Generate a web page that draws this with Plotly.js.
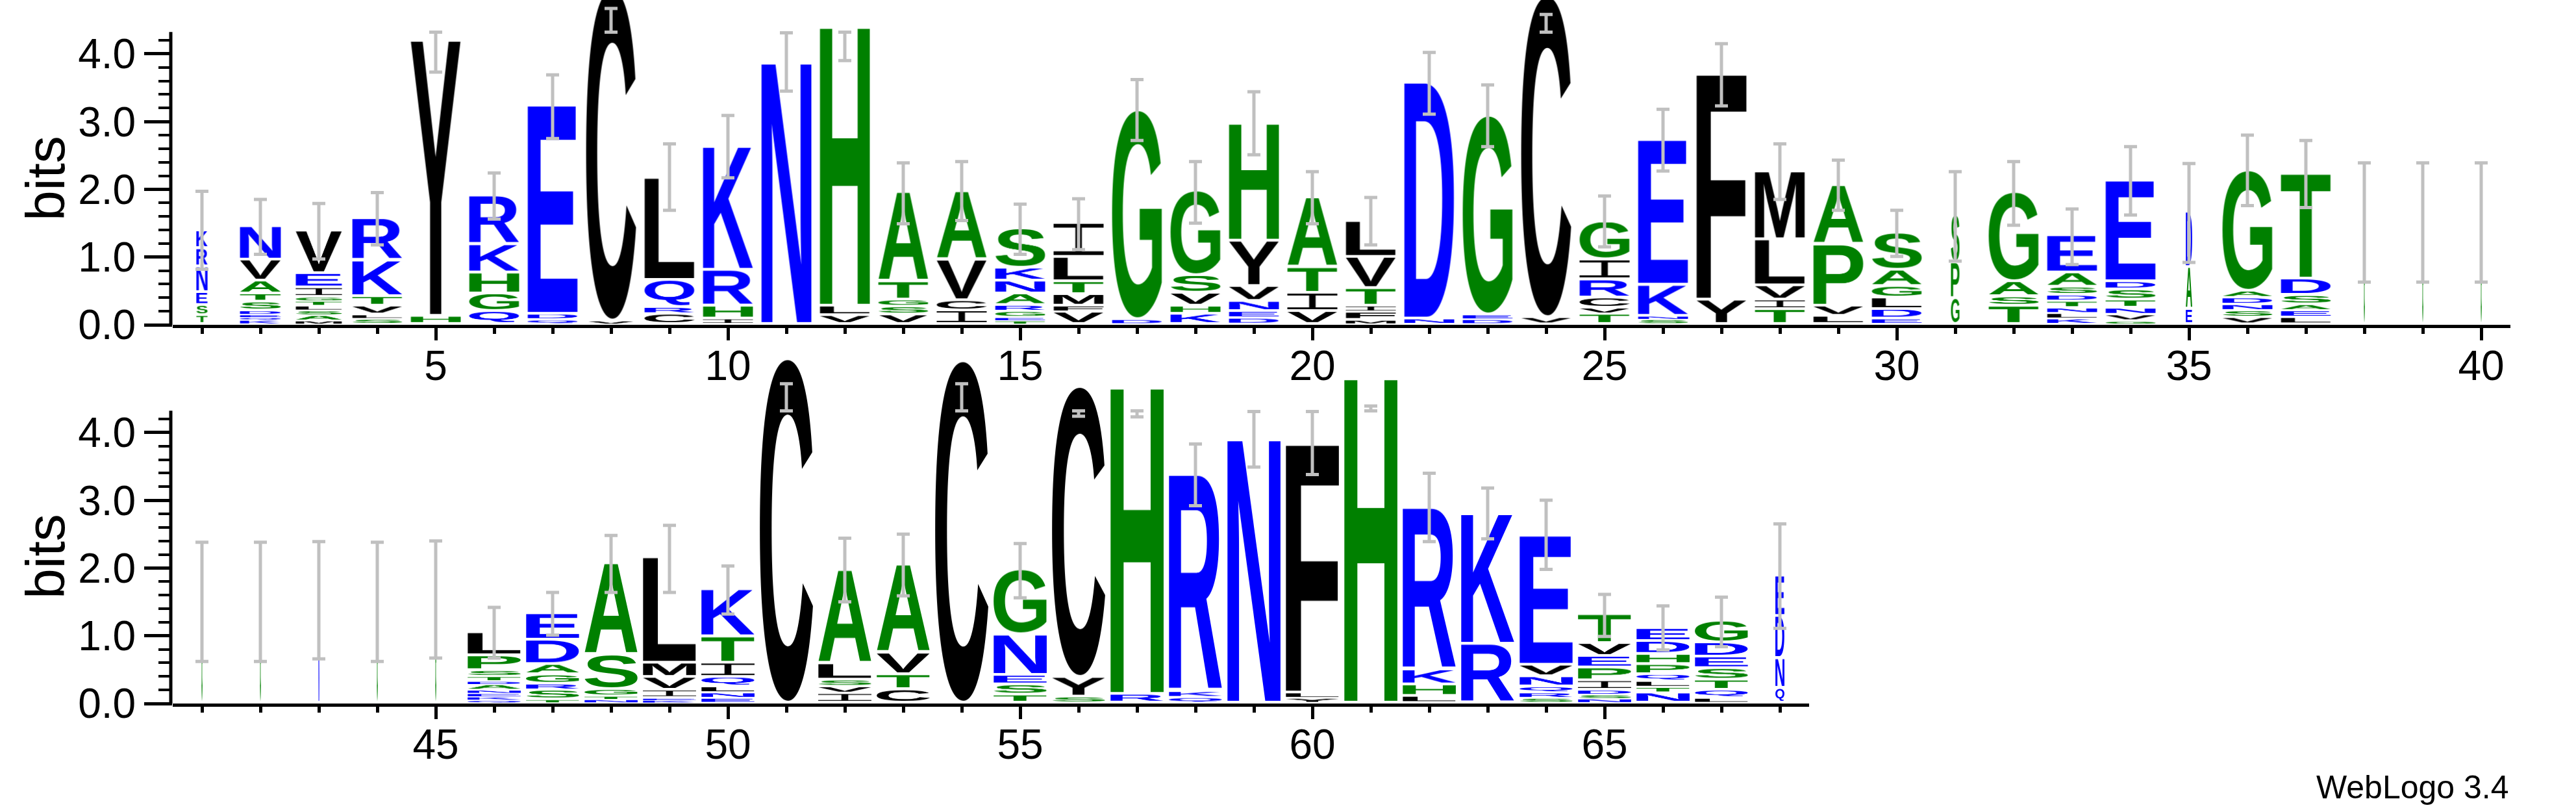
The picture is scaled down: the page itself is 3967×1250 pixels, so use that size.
<!DOCTYPE html>
<html>
<head>
<meta charset="utf-8">
<script src="https://cdn.plot.ly/plotly-3.0.1.min.js"></script>
<style>
html,body{margin:0;padding:0;background:#fff;}
#chart{width:3967px;height:1250px;}
</style>
</head>
<body>
<div id="chart"></div>
<script>
// ---------------- DATA ----------------
const positions = [1,2,3,4,5,6,7,8,9,10,11,12,13,14,15,16,17,18,19,20,21,22,23,24,25,26,27,28,29,30,31,32,33,34,35,36,37,38,39,40,
  41,42,43,44,45,46,47,48,49,50,51,52,53,54,55,56,57,58,59,60,61,62,63,64,65,66,67,68];

// letter stacks, bottom -> top, "Letter:bits"
const stacks = [
  "T:0.13 S:0.15 E:0.19 N:0.38 R:0.27 K:0.26",
  "K:0.06 Q:0.04 E:0.04 D:0.06 S:0.13 T:0.12 A:0.19 V:0.31 N:0.50",
  "M:0.05 A:0.08 S:0.07 L:0.07 T:0.07 G:0.06 I:0.14 E:0.21 V:0.63",
  "S:0.08 L:0.06 V:0.13 T:0.14 K:0.53 R:0.62",
  "H:0.12 Y:4.07",
  "Q:0.19 G:0.26 H:0.31 K:0.42 R:0.72",
  "Q:0.07 D:0.08 E:3.08",
  "V:0.05 C:4.90",
  "C:0.15 R:0.10 Q:0.40 L:1.51",
  "I:0.08 H:0.19 R:0.53 K:1.83",
  "N:3.88",
  "V:0.13 L:0.14 H:4.14",
  "V:0.14 S:0.12 G:0.10 T:0.27 A:1.32",
  "I:0.20 C:0.15 V:0.60 A:1.01",
  "T:0.05 E:0.05 G:0.09 R:0.09 A:0.17 N:0.19 K:0.19 S:0.58",
  "V:0.18 F:0.09 M:0.17 T:0.19 L:0.36 I:0.50",
  "D:0.07 G:3.09",
  "K:0.15 H:0.12 V:0.19 S:0.26 G:1.25",
  "D:0.09 E:0.10 N:0.15 V:0.22 Y:0.67 H:1.74",
  "V:0.19 I:0.27 T:0.38 A:1.03",
  "M:0.06 F:0.12 I:0.09 T:0.26 V:0.46 L:0.53",
  "N:0.08 D:3.49",
  "D:0.07 E:0.07 G:2.94",
  "V:0.10 C:4.75",
  "T:0.15 V:0.09 C:0.15 R:0.27 I:0.29 G:0.56",
  "S:0.07 N:0.05 K:0.46 E:2.14",
  "Y:0.36 F:3.35",
  "T:0.22 I:0.14 V:0.21 L:0.68 M:1.01",
  "L:0.12 V:0.15 P:0.91 A:0.87",
  "E:0.08 D:0.14 L:0.17 G:0.17 A:0.24 S:0.55",
  "G:0.38 P:0.53 S:0.70",
  "T:0.27 S:0.14 A:0.22 G:1.32",
  "K:0.08 L:0.08 N:0.08 T:0.10 D:0.09 S:0.12 A:0.21 E:0.55",
  "G:0.05 V:0.09 N:0.10 T:0.12 S:0.15 D:0.12 E:1.49",
  "E:0.22 A:0.62 D:0.82",
  "V:0.10 S:0.10 N:0.09 D:0.10 A:0.10 G:1.78",
  "L:0.10 E:0.10 A:0.09 S:0.14 D:0.24 T:1.56",
  "G:1.50",
  "G:1.50",
  "G:1.50",
  "G:1.50",
  "G:1.50",
  "N:1.53",
  "G:1.50",
  "G:1.54",
  "Q:0.04 K:0.05 E:0.05 N:0.05 A:0.08 D:0.05 T:0.07 S:0.09 P:0.22 L:0.34",
  "T:0.05 S:0.14 R:0.09 G:0.14 A:0.15 D:0.36 E:0.39",
  "N:0.05 T:0.05 G:0.10 S:0.51 A:1.35",
  "K:0.04 E:0.03 I:0.12 V:0.19 M:0.21 L:1.56",
  "E:0.07 N:0.08 L:0.09 Q:0.14 I:0.21 T:0.39 K:0.70",
  "C:5.08",
  "I:0.14 V:0.10 S:0.10 L:0.24 A:1.38",
  "C:0.20 T:0.22 V:0.32 A:1.30",
  "C:5.05",
  "T:0.12 S:0.15 E:0.14 N:0.60 G:0.96",
  "S:0.09 Y:0.29 C:4.29",
  "R:0.13 H:4.55",
  "Q:0.08 K:0.09 R:3.20",
  "N:3.91",
  "Y:0.07 L:0.08 F:3.69",
  "H:4.82",
  "L:0.10 H:0.17 K:0.22 R:2.39",
  "R:0.87 K:1.93",
  "S:0.07 R:0.08 Q:0.09 N:0.15 V:0.17 E:1.91",
  "N:0.06 S:0.06 D:0.07 I:0.14 P:0.19 E:0.17 V:0.19 T:0.43",
  "N:0.15 T:0.08 L:0.09 Q:0.10 P:0.15 H:0.15 D:0.19 E:0.19",
  "L:0.07 Q:0.12 T:0.15 S:0.17 E:0.17 D:0.21 G:0.32",
  "Q:0.22 N:0.44 D:0.62 E:0.60"
];

// fraction of non-gap symbols per column (scales stack width)
const occupancy = [0.21,0.77,0.87,0.94,0.94,0.94,0.94,0.94,0.94,0.94,
  0.94,0.94,0.94,0.94,0.94,0.94,0.94,0.94,0.94,0.94,
  0.94,0.94,0.94,0.94,0.94,0.94,0.94,0.94,0.94,0.94,
  0.16,0.94,0.94,0.94,0.12,0.94,0.94,0.02,0.02,0.02,
  0.02,0.02,0.02,0.02,0.02,1,1,1,1,1,
  1,1,1,1,1,1,1,1,1,1,
  1,1,1,1,1,1,1,0.17];

const errLow = [0.82,1.04,0.97,1.18,3.73,1.56,2.75,4.67,1.69,2.17,
  3.45,3.90,1.49,1.54,1.04,1.11,2.72,1.50,2.51,1.49,
  1.18,3.11,2.63,4.58,1.15,2.27,3.23,1.85,1.69,1.01,
  0.94,1.47,0.89,1.62,0.92,1.76,1.73,0.63,0.63,0.63,
  0.62,0.62,0.66,0.62,0.67,0.67,1.01,1.64,1.64,1.32,
  4.72,1.50,1.59,4.72,1.56,4.24,4.23,2.92,3.49,3.38,
  4.39,2.39,2.43,1.98,0.99,0.79,0.84,1.11];

const errHigh = [1.97,1.85,1.79,1.95,4.32,2.24,3.69,4.32,2.67,3.09,
  4.31,4.32,2.39,2.41,1.78,1.86,3.62,2.41,3.44,2.26,
  1.88,4.02,3.54,4.32,1.90,3.18,4.15,2.67,2.43,1.69,
  2.26,2.41,1.71,2.63,2.38,2.80,2.72,2.39,2.39,2.39,
  2.38,2.38,2.39,2.38,2.40,1.42,1.64,2.48,2.63,2.03,
  4.32,2.44,2.50,4.32,2.36,4.32,4.32,3.83,4.31,4.31,
  4.32,3.40,3.18,3.00,1.61,1.44,1.57,2.65];

const topTickLabels = [5,10,15,20,25,30,35,40];
const bottomTickLabels = [45,50,55,60,65];
const yTickLabels = [0,1,2,3,4];
const maxBits = Math.log2(20);

// ---------------- STYLE ----------------
const W = 3967, H = 1250;
const PXB = 104.3;           // pixels per bit
const PXU = 90;              // pixels per position
const X0 = 266;              // pixel of left edge (position 0.5)
const TOP_ZERO = 500, BOT_ZERO = 1083;
const FULL_W = 0.91;         // full stack width in position units
const BLUE = '#0000ff', GREEN = '#008000', BLACK = '#000000';
const colorOf = L => ('DEKNQR'.indexOf(L) >= 0 ? BLUE : ('AGHPST'.indexOf(L) >= 0 ? GREEN : BLACK));
const LETTER_FONT = 'bold 200px "Liberation Sans", Arial, Helvetica, sans-serif';
const FONT = '"Liberation Sans", Arial, Helvetica, sans-serif';

// glyph metrics
const mCanvas = document.createElement('canvas');
const mCtx = mCanvas.getContext('2d');
mCtx.font = LETTER_FONT;
const metricCache = {};
function metrics(L) {
  if (!metricCache[L]) {
    const m = mCtx.measureText(L);
    const left = m.actualBoundingBoxLeft, right = m.actualBoundingBoxRight;
    const asc = m.actualBoundingBoxAscent, desc = m.actualBoundingBoxDescent;
    metricCache[L] = {left: left, w: left + right, asc: asc, h: asc + desc};
  }
  return metricCache[L];
}
function glyphURL(L, wpx, hpx) {
  const cw = Math.max(1, Math.round(wpx * 2));
  const ch = Math.max(1, Math.round(hpx * 2));
  const c = document.createElement('canvas');
  c.width = cw; c.height = ch;
  const ctx = c.getContext('2d');
  ctx.fillStyle = colorOf(L);
  if (L === 'I') {
    // serifed I, as in the WebLogo glyph set
    const bar = Math.max(1, ch * 0.12), stem = Math.max(1, cw * 0.13);
    ctx.fillRect(0, 0, cw, bar);
    ctx.fillRect(0, ch - bar, cw, bar);
    ctx.fillRect((cw - stem) / 2, 0, stem, ch);
  } else {
    const m = metrics(L);
    ctx.setTransform(cw / m.w, 0, 0, ch / m.h, 0, 0);
    ctx.font = LETTER_FONT;
    ctx.textBaseline = 'alphabetic';
    ctx.fillText(L, m.left, m.asc);
  }
  return c.toDataURL('image/png');
}

const images = [];
const totals = [];
positions.forEach((p, i) => {
  const bottomRow = p > 40;
  const xr = bottomRow ? 'x2' : 'x', yr = bottomRow ? 'y2' : 'y';
  const w = FULL_W * occupancy[i];
  let cum = 0;
  stacks[i].split(' ').forEach(tok => {
    const parts = tok.split(':');
    const L = parts[0], h = parseFloat(parts[1]);
    const top = cum + h;
    const gap = Math.min(0.04, 0.35 * h);
    const dh = h - gap;
    images.push({
      source: glyphURL(L, w * PXU, dh * PXB),
      xref: xr, yref: yr,
      x: p - w / 2, y: top,
      sizex: w, sizey: dh,
      sizing: 'stretch', xanchor: 'left', yanchor: 'top',
      layer: 'below'
    });
    cum = top;
  });
  totals.push(cum);
});

function errTrace(filter, xr, yr) {
  const xs = [], ys = [], up = [], dn = [];
  positions.forEach((p, i) => {
    if (!filter(p)) return;
    xs.push(p); ys.push(totals[i]);
    up.push(errHigh[i] - totals[i]);
    dn.push(totals[i] - errLow[i]);
  });
  return {
    type: 'scatter', mode: 'markers', x: xs, y: ys, xaxis: xr, yaxis: yr,
    marker: {size: 1, color: 'rgba(0,0,0,0)'}, hoverinfo: 'skip', showlegend: false,
    error_y: {type: 'data', symmetric: false, array: up, arrayminus: dn,
              color: '#c0c0c0', thickness: 5, width: 10}
  };
}
const traces = [errTrace(p => p <= 40, 'x', 'y'), errTrace(p => p > 40, 'x2', 'y2')];

const minorY = [];
for (let v = 0.2; v < maxBits - 0.05; v += 0.2) minorY.push(Math.round(v * 10) / 10);

const tickFont = {family: FONT, size: 64, color: '#000'};
function xAxis(dom, rng, vals, anchor) {
  return {
    domain: dom, range: rng, anchor: anchor, showgrid: false, zeroline: false,
    showline: true, linecolor: '#000', linewidth: 5,
    ticks: 'outside', tickmode: 'array', tickvals: vals, ticklen: 19, tickwidth: 5, tickcolor: '#000',
    tickfont: tickFont, ticklabelstandoff: -16,
    minor: {ticks: 'outside', tickmode: 'linear', tick0: 0, dtick: 1, ticklen: 9, tickwidth: 5, tickcolor: '#000'},
    fixedrange: true
  };
}
function yAxis(dom, rng, anchor) {
  return {
    domain: dom, range: rng, anchor: anchor, showgrid: false, zeroline: false, showline: false,
    ticks: 'outside', tickmode: 'array', tickvals: yTickLabels, tickformat: '.1f',
    ticklen: 43, tickwidth: 5, tickcolor: '#000', tickfont: tickFont,
    minor: {ticks: 'outside', tickmode: 'array', tickvals: minorY, ticklen: 21, tickwidth: 4, tickcolor: '#000'},
    fixedrange: true
  };
}

const layout = {
  width: W, height: H, autosize: false,
  margin: {l: 0, r: 0, t: 0, b: 0},
  paper_bgcolor: '#fff', plot_bgcolor: 'rgba(0,0,0,0)',
  showlegend: false,
  xaxis: xAxis([X0 / W, (X0 + 40 * PXU) / W], [0.5, 40.5], topTickLabels, 'y'),
  yaxis: yAxis([1 - TOP_ZERO / H, 1], [0, TOP_ZERO / PXB], 'x'),
  xaxis2: xAxis([X0 / W, (X0 + 28 * PXU) / W], [40.5, 68.5], bottomTickLabels, 'y2'),
  yaxis2: yAxis([1 - BOT_ZERO / H, 1 - (BOT_ZERO - 5.3 * PXB) / H], [0, 5.3], 'x2'),
  images: images,
  shapes: [
    {type: 'line', xref: 'paper', yref: 'y', x0: 263 / W, x1: 263 / W, y0: -0.05, y1: maxBits,
     line: {color: '#000', width: 5}},
    {type: 'line', xref: 'paper', yref: 'y2', x0: 263 / W, x1: 263 / W, y0: -0.05, y1: maxBits,
     line: {color: '#000', width: 5}}
  ],
  annotations: [
    {text: 'bits', xref: 'paper', yref: 'paper', x: 70 / W, y: 1 - 275 / H, xanchor: 'center', yanchor: 'middle',
     textangle: -90, showarrow: false, font: {family: FONT, size: 84, color: '#000'}},
    {text: 'bits', xref: 'paper', yref: 'paper', x: 70 / W, y: 1 - 857 / H, xanchor: 'center', yanchor: 'middle',
     textangle: -90, showarrow: false, font: {family: FONT, size: 84, color: '#000'}},
    {text: 'WebLogo 3.4', xref: 'paper', yref: 'paper', x: 3866 / W, y: 1 - 1212 / H, xanchor: 'right', yanchor: 'middle',
     showarrow: false, font: {family: FONT, size: 50, color: '#000'}}
  ]
};

Plotly.newPlot('chart', traces, layout, {staticPlot: true, displayModeBar: false});
</script>
</body>
</html>
